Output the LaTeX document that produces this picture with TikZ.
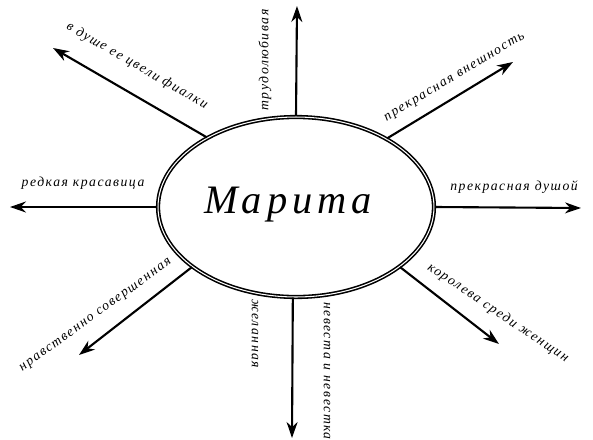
\documentclass[tikz,border=0pt]{standalone}
\usepackage{fontspec}
\setmainfont{Liberation Serif}
\newfontfamily\lblfont{Liberation Serif}[LetterSpace=11]
\newfontfamily\namefont{Liberation Serif}[LetterSpace=12]
\usetikzlibrary{shapes.geometric,arrows.meta}

\begin{document}
\begin{tikzpicture}[x=0.02cm, y=-0.02cm,
    lbl/.style={font=\lblfont\itshape\fontsize{7.8}{9}\selectfont, inner sep=0pt},
    ray/.style={line width=1.2pt, -{Stealth[length=0.32cm, width=0.22cm]}}]
    \useasboundingbox (0,0) rectangle (593,440);
    % centre
    \node[ellipse, draw, double, double distance=0.6pt, line width=0.9pt,
          minimum width=5.52cm, minimum height=3.6cm, inner sep=0pt] (marita) at (296,207) {};
    \node[font=\namefont\itshape\fontsize{23}{24}\selectfont, inner sep=0pt] (name) at (288,205) {Марита};
    % arrow tips
    \coordinate (t1) at (297,6);
    \coordinate (t2) at (513,62);
    \coordinate (t3) at (581,208);
    \coordinate (t4) at (499,344);
    \coordinate (t5) at (292,438);
    \coordinate (t6) at (79,355);
    \coordinate (t7) at (10,207);
    \coordinate (t8) at (53,48);
    \draw[ray] (marita.90) -- (t1);
    \draw[ray] (marita.37) -- (t2);
    \draw[ray] (marita.0) -- (t3);
    \draw[ray] (marita.-30) -- (t4);
    \draw[ray] (marita.-92) -- (t5);
    \draw[ray] (marita.-150) -- (t6);
    \draw[ray] (marita.180) -- (t7);
    \draw[ray] (marita.142) -- (t8);
    % labels
    \node[lbl, rotate=90] (l1) at (265,60) {трудолюбивая};
    \node[lbl, rotate=31] (l2) at (455,78) {прекрасная внешность};
    \node[lbl] (l3) at (514,187) {прекрасная душой};
    \node[lbl, rotate=-34] (l4) at (498,313) {королева среди женщин};
    \node[lbl, rotate=-90] (l5) at (327,371) {невеста и невестка};
    \node[lbl, rotate=-90] (l6) at (255,334) {желанная};
    \node[lbl, rotate=36] (l7) at (96,316) {нравственно совершенная};
    \node[lbl] (l8) at (83,183) {редкая красавица};
    \node[lbl, rotate=-30] (l9) at (137,66) {в душе ее цвели фиалки};
\end{tikzpicture}
\end{document}
